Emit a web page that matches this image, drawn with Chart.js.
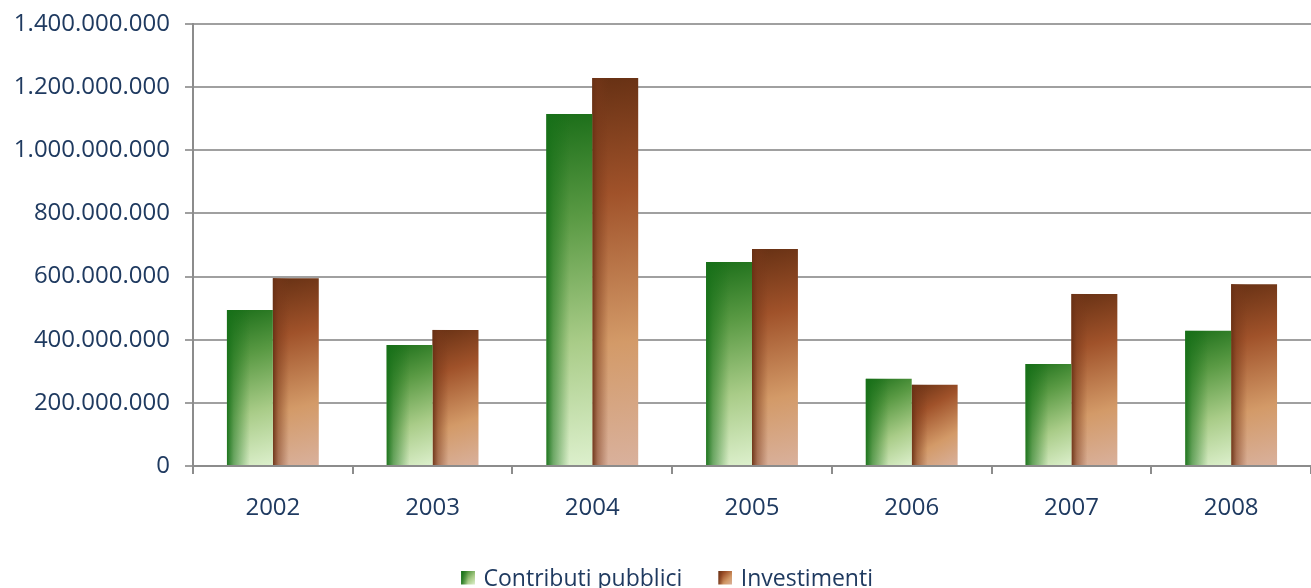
<!DOCTYPE html>
<html><head><meta charset="utf-8">
<script src="https://cdn.jsdelivr.net/npm/chart.js@4/dist/chart.umd.min.js"></script>
<style>html,body{margin:0;padding:0;background:#fff}#wrap{width:1311px;height:588px}</style>
</head><body><div id="wrap"><canvas id="c" width="1311" height="588"></canvas></div>
<script>
const categories = ['2002', '2003', '2004', '2005', '2006', '2007', '2008'];
const contributiPubblici = [494000000, 383000000, 1115000000, 646000000, 276000000, 323000000, 428000000];
const investimenti = [595000000, 431000000, 1229000000, 687000000, 257000000, 545000000, 576000000];
const seriesNames = ['Contributi pubblici', 'Investimenti'];
const yMin = 0, yMax = 1400000000, yStep = 200000000;

const CAT_PCT = 0.575;
const TEXT = '#1F3A60';
const FONT = 'Open Sans';
const FS_TICK = 24;
const FS_LEGEND = 23;

const palettes = [
  { stops: [[0, '#1b6e19'], [0.3, '#5a9a44'], [0.65, '#a9cc88'], [1, '#ddf0cd']],
    edge: [[0, 'rgba(22,112,24,0.95)'], [0.15, 'rgba(22,112,24,0.55)'], [0.5, 'rgba(22,112,24,0)']] },
  { stops: [[0, '#673114'], [0.3, '#a0522a'], [0.68, '#d39a68'], [1, '#d9b19d']],
    edge: [[0, 'rgba(104,48,20,0.95)'], [0.12, 'rgba(120,56,26,0.5)'], [0.35, 'rgba(120,56,26,0)']] }
];

function fmt(v) { return String(Math.round(v)).replace(/\B(?=(\d{3})+(?!\d))/g, '.'); }

function barFill(ctx) {
  const pal = palettes[ctx.datasetIndex];
  const ch = ctx.chart;
  if (ctx.type !== 'data' || !ch.chartArea || !ch.scales.x || !ch.scales.y) return pal.stops[1][1];
  const xs = ch.scales.x, ys = ch.scales.y;
  const cw = xs.width / categories.length;
  const bw = cw * CAT_PCT / 2;
  const cx = xs.getPixelForValue(ctx.dataIndex);
  const left = ctx.datasetIndex === 0 ? cx - bw : cx;
  const top = ys.getPixelForValue(ctx.raw), base = ys.getPixelForValue(0);
  const g = ch.ctx.createLinearGradient(left, top, left + bw, base);
  pal.stops.forEach(s => g.addColorStop(s[0], s[1]));
  return g;
}

const edgePlugin = {
  id: 'edgeShade',
  afterLayout(chart) {
    if (chart.legend) { chart.legend.left += 10; chart.legend.right += 10; }
  },
  afterDatasetDraw(chart, args) {
    const pal = palettes[args.index];
    const c = chart.ctx;
    args.meta.data.forEach(el => {
      const w = el.width, l = el.x - w / 2, t = Math.min(el.y, el.base), h = Math.abs(el.base - el.y);
      const g = c.createLinearGradient(l, 0, l + w, 0);
      pal.edge.forEach(s => g.addColorStop(s[0], s[1]));
      c.save(); c.fillStyle = g; c.fillRect(l, t, w, h); c.restore();
    });
  }
};

function legendSwatch(i) {
  const cv = document.createElement('canvas');
  cv.width = 20; cv.height = 18;
  const x = cv.getContext('2d');
  const g = x.createLinearGradient(6, 0, 20, 14);
  palettes[i].stops.forEach(s => g.addColorStop(s[0], s[1]));
  x.fillStyle = g; x.fillRect(6, 0, 14, 14);
  const h = x.createLinearGradient(6, 0, 20, 0);
  palettes[i].edge.forEach(s => h.addColorStop(s[0], s[1]));
  x.fillStyle = h; x.fillRect(6, 0, 14, 14);
  return cv;
}

Chart.defaults.font.family = FONT;
Chart.defaults.color = TEXT;

new Chart(document.getElementById('c'), {
  type: 'bar',
  data: {
    labels: categories,
    datasets: [
      { label: seriesNames[0], data: contributiPubblici, backgroundColor: barFill, borderWidth: 0 },
      { label: seriesNames[1], data: investimenti, backgroundColor: barFill, borderWidth: 0 }
    ]
  },
  plugins: [edgePlugin],
  options: {
    responsive: false,
    devicePixelRatio: 1,
    animation: false,
    layout: { padding: { top: 24, right: 0, left: 0, bottom: -13 } },
    datasets: { bar: { categoryPercentage: CAT_PCT, barPercentage: 1 } },
    scales: {
      x: {
        grid: { offset: true, drawOnChartArea: false, drawTicks: true, tickLength: 8, color: '#8c8c8c', lineWidth: 2 },
        border: { display: true, color: '#8c8c8c', width: 2 },
        ticks: { font: { size: FS_TICK }, color: TEXT, padding: 20 },
        afterFit(s) { s.height = 69; }
      },
      y: {
        min: yMin, max: yMax,
        grid: { color: '#a0a0a0', lineWidth: 2, tickLength: 8, drawTicks: true },
        border: { display: true, color: '#8c8c8c', width: 2 },
        ticks: { stepSize: yStep, font: { size: FS_TICK }, color: TEXT, padding: 15, callback: v => fmt(v) },
        afterFit(s) { s.width = 193; s.paddingTop = 0; s.paddingBottom = 0; }
      }
    },
    plugins: {
      tooltip: { enabled: false },
      legend: {
        position: 'bottom',
        labels: {
          font: { size: FS_LEGEND }, color: TEXT, padding: 33, usePointStyle: true, pointStyleWidth: 14,
          generateLabels: () => seriesNames.map((n, i) => ({
            text: n, pointStyle: legendSwatch(i), fillStyle: palettes[i].stops[1][1],
            strokeStyle: 'transparent', lineWidth: 0, hidden: false, datasetIndex: i, fontColor: TEXT
          }))
        }
      }
    }
  }
});
</script>
</body></html>
